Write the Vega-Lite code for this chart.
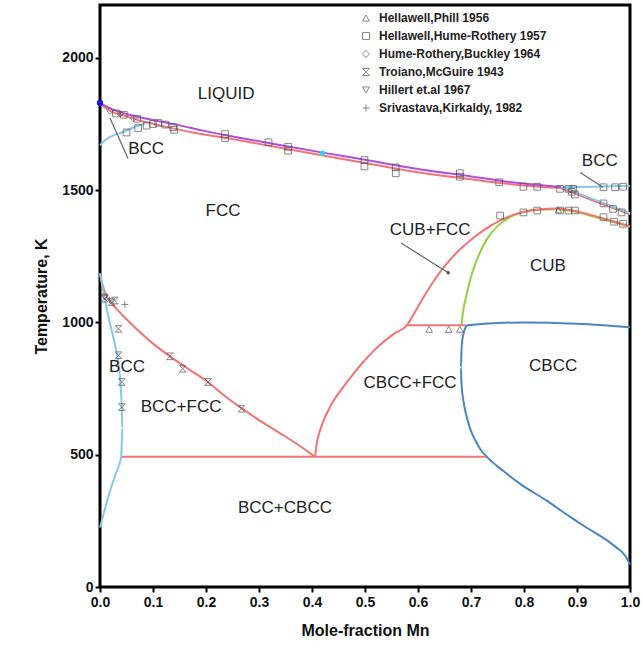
{
  "$schema": "https://vega.github.io/schema/vega-lite/v6.json",
  "autosize": {"type": "none"},
  "padding": {"left": 100, "top": 5, "right": 12, "bottom": 70},
  "width": 530,
  "height": 582,
  "background": "#ffffff",
  "config": {
    "font": "Liberation Sans",
    "view": {"stroke": "#000000", "strokeWidth": 3},
    "axis": {"domain": false, "grid": false, "tickColor": "#000000", "tickWidth": 2, "tickSize": 5, "labelFlush": false,
      "labelFont": "Liberation Sans", "labelFontWeight": "bold", "labelFontSize": 14, "labelColor": "#111111",
      "titleFont": "Liberation Sans", "titleFontWeight": "bold", "titleFontSize": 16, "titleColor": "#111111"}
  },
  "datasets": {
    "lines": [
      {"c": "sol", "k": "red", "i": 0, "x": 0.0, "T": 1826},
      {"c": "sol", "k": "red", "i": 1, "x": 0.02, "T": 1799},
      {"c": "sol", "k": "red", "i": 2, "x": 0.05, "T": 1779},
      {"c": "sol", "k": "red", "i": 3, "x": 0.085, "T": 1758},
      {"c": "sol", "k": "red", "i": 4, "x": 0.1, "T": 1751},
      {"c": "sol", "k": "red", "i": 5, "x": 0.18, "T": 1716},
      {"c": "sol", "k": "red", "i": 6, "x": 0.25, "T": 1693},
      {"c": "sol", "k": "red", "i": 7, "x": 0.3, "T": 1675},
      {"c": "sol", "k": "red", "i": 8, "x": 0.4, "T": 1639},
      {"c": "sol", "k": "red", "i": 9, "x": 0.5, "T": 1603},
      {"c": "sol", "k": "red", "i": 10, "x": 0.6, "T": 1568},
      {"c": "sol", "k": "red", "i": 11, "x": 0.7, "T": 1541},
      {"c": "sol", "k": "red", "i": 12, "x": 0.755, "T": 1527},
      {"c": "sol", "k": "red", "i": 13, "x": 0.8, "T": 1518},
      {"c": "sol", "k": "red", "i": 14, "x": 0.87, "T": 1508},
      {"c": "liq", "k": "liq", "i": 0, "x": 0.0, "T": 1830},
      {"c": "liq", "k": "liq", "i": 1, "x": 0.02, "T": 1808},
      {"c": "liq", "k": "liq", "i": 2, "x": 0.05, "T": 1788},
      {"c": "liq", "k": "liq", "i": 3, "x": 0.1, "T": 1765},
      {"c": "liq", "k": "liq", "i": 4, "x": 0.15, "T": 1745},
      {"c": "liq", "k": "liq", "i": 5, "x": 0.19, "T": 1727},
      {"c": "liq", "k": "liq", "i": 6, "x": 0.25, "T": 1703},
      {"c": "liq", "k": "liq", "i": 7, "x": 0.3, "T": 1685},
      {"c": "liq", "k": "liq", "i": 8, "x": 0.35, "T": 1667},
      {"c": "liq", "k": "liq", "i": 9, "x": 0.42, "T": 1642},
      {"c": "liq", "k": "liq", "i": 10, "x": 0.5, "T": 1615},
      {"c": "liq", "k": "liq", "i": 11, "x": 0.6, "T": 1580},
      {"c": "liq", "k": "liq", "i": 12, "x": 0.7, "T": 1552},
      {"c": "liq", "k": "liq", "i": 13, "x": 0.755, "T": 1536},
      {"c": "liq", "k": "liq", "i": 14, "x": 0.8, "T": 1525},
      {"c": "liq", "k": "liq", "i": 15, "x": 0.87, "T": 1512},
      {"c": "delta", "k": "lblue", "i": 0, "x": 0.0, "T": 1670},
      {"c": "delta", "k": "lblue", "i": 1, "x": 0.01, "T": 1690},
      {"c": "delta", "k": "lblue", "i": 2, "x": 0.025, "T": 1707},
      {"c": "delta", "k": "lblue", "i": 3, "x": 0.044, "T": 1720},
      {"c": "delta", "k": "lblue", "i": 4, "x": 0.063, "T": 1737},
      {"c": "delta", "k": "lblue", "i": 5, "x": 0.085, "T": 1752},
      {"c": "rfcc", "k": "red", "i": 0, "x": 0.87, "T": 1507},
      {"c": "rfcc", "k": "red", "i": 1, "x": 0.9, "T": 1484},
      {"c": "rfcc", "k": "red", "i": 2, "x": 0.95, "T": 1446},
      {"c": "rfcc", "k": "red", "i": 3, "x": 1.0, "T": 1409},
      {"c": "rbtop", "k": "lblue", "i": 0, "x": 0.87, "T": 1511},
      {"c": "rbtop", "k": "lblue", "i": 1, "x": 0.93, "T": 1513},
      {"c": "rbtop", "k": "lblue", "i": 2, "x": 1.0, "T": 1517},
      {"c": "rbdesc", "k": "lblue", "i": 0, "x": 0.875, "T": 1510},
      {"c": "rbdesc", "k": "lblue", "i": 1, "x": 0.9, "T": 1490},
      {"c": "rbdesc", "k": "lblue", "i": 2, "x": 0.95, "T": 1451},
      {"c": "rbdesc", "k": "lblue", "i": 3, "x": 1.0, "T": 1413},
      {"c": "g1", "k": "green", "i": 0, "x": 0.682, "T": 989},
      {"c": "g1", "k": "green", "i": 1, "x": 0.685, "T": 1040},
      {"c": "g1", "k": "green", "i": 2, "x": 0.69, "T": 1090},
      {"c": "g1", "k": "green", "i": 3, "x": 0.697, "T": 1150},
      {"c": "g1", "k": "green", "i": 4, "x": 0.706, "T": 1210},
      {"c": "g1", "k": "green", "i": 5, "x": 0.717, "T": 1265},
      {"c": "g1", "k": "green", "i": 6, "x": 0.73, "T": 1315},
      {"c": "g1", "k": "green", "i": 7, "x": 0.75, "T": 1364},
      {"c": "g1", "k": "green", "i": 8, "x": 0.775, "T": 1400},
      {"c": "g1", "k": "green", "i": 9, "x": 0.8, "T": 1417},
      {"c": "g1", "k": "green", "i": 10, "x": 0.83, "T": 1426},
      {"c": "g1", "k": "green", "i": 11, "x": 0.862, "T": 1428},
      {"c": "g1", "k": "green", "i": 12, "x": 0.892, "T": 1420},
      {"c": "g1", "k": "green", "i": 13, "x": 0.943, "T": 1394},
      {"c": "g1", "k": "green", "i": 14, "x": 1.0, "T": 1362},
      {"c": "f1", "k": "red", "i": 0, "x": 0.406, "T": 492},
      {"c": "f1", "k": "red", "i": 1, "x": 0.408, "T": 530},
      {"c": "f1", "k": "red", "i": 2, "x": 0.412, "T": 570},
      {"c": "f1", "k": "red", "i": 3, "x": 0.42, "T": 620},
      {"c": "f1", "k": "red", "i": 4, "x": 0.434, "T": 681},
      {"c": "f1", "k": "red", "i": 5, "x": 0.455, "T": 745},
      {"c": "f1", "k": "red", "i": 6, "x": 0.478, "T": 806},
      {"c": "f1", "k": "red", "i": 7, "x": 0.5, "T": 858},
      {"c": "f1", "k": "red", "i": 8, "x": 0.528, "T": 915},
      {"c": "f1", "k": "red", "i": 9, "x": 0.555, "T": 958},
      {"c": "f1", "k": "red", "i": 10, "x": 0.579, "T": 989},
      {"c": "f1", "k": "red", "i": 11, "x": 0.59, "T": 1025},
      {"c": "f1", "k": "red", "i": 12, "x": 0.603, "T": 1070},
      {"c": "f1", "k": "red", "i": 13, "x": 0.618, "T": 1120},
      {"c": "f1", "k": "red", "i": 14, "x": 0.635, "T": 1172},
      {"c": "f1", "k": "red", "i": 15, "x": 0.655, "T": 1224},
      {"c": "f1", "k": "red", "i": 16, "x": 0.677, "T": 1272},
      {"c": "f1", "k": "red", "i": 17, "x": 0.7, "T": 1313},
      {"c": "f1", "k": "red", "i": 18, "x": 0.725, "T": 1350},
      {"c": "f1", "k": "red", "i": 19, "x": 0.75, "T": 1380},
      {"c": "f1", "k": "red", "i": 20, "x": 0.775, "T": 1403},
      {"c": "f1", "k": "red", "i": 21, "x": 0.8, "T": 1419},
      {"c": "f1", "k": "red", "i": 22, "x": 0.83, "T": 1428},
      {"c": "f1", "k": "red", "i": 23, "x": 0.862, "T": 1431},
      {"c": "f1", "k": "red", "i": 24, "x": 0.892, "T": 1423},
      {"c": "f1", "k": "red", "i": 25, "x": 0.943, "T": 1397},
      {"c": "f1", "k": "red", "i": 26, "x": 1.0, "T": 1364},
      {"c": "f2", "k": "red", "i": 0, "x": 0.0, "T": 1185},
      {"c": "f2", "k": "red", "i": 1, "x": 0.005, "T": 1140},
      {"c": "f2", "k": "red", "i": 2, "x": 0.012, "T": 1102},
      {"c": "f2", "k": "red", "i": 3, "x": 0.022, "T": 1072},
      {"c": "f2", "k": "red", "i": 4, "x": 0.035, "T": 1043},
      {"c": "f2", "k": "red", "i": 5, "x": 0.05, "T": 1012},
      {"c": "f2", "k": "red", "i": 6, "x": 0.07, "T": 973},
      {"c": "f2", "k": "red", "i": 7, "x": 0.1, "T": 920},
      {"c": "f2", "k": "red", "i": 8, "x": 0.132, "T": 872},
      {"c": "f2", "k": "red", "i": 9, "x": 0.17, "T": 820},
      {"c": "f2", "k": "red", "i": 10, "x": 0.204, "T": 774},
      {"c": "f2", "k": "red", "i": 11, "x": 0.235, "T": 723},
      {"c": "f2", "k": "red", "i": 12, "x": 0.267, "T": 676},
      {"c": "f2", "k": "red", "i": 13, "x": 0.3, "T": 631},
      {"c": "f2", "k": "red", "i": 14, "x": 0.34, "T": 581},
      {"c": "f2", "k": "red", "i": 15, "x": 0.375, "T": 536},
      {"c": "f2", "k": "red", "i": 16, "x": 0.406, "T": 492},
      {"c": "h1", "k": "red", "i": 0, "x": 0.04, "T": 492},
      {"c": "h1", "k": "red", "i": 1, "x": 0.73, "T": 492},
      {"c": "h2", "k": "red", "i": 0, "x": 0.579, "T": 989},
      {"c": "h2", "k": "red", "i": 1, "x": 0.69, "T": 989},
      {"c": "b2", "k": "lblue", "i": 0, "x": 0.0, "T": 1185},
      {"c": "b2", "k": "lblue", "i": 1, "x": 0.008, "T": 1100},
      {"c": "b2", "k": "lblue", "i": 2, "x": 0.015, "T": 1030},
      {"c": "b2", "k": "lblue", "i": 3, "x": 0.022, "T": 970},
      {"c": "b2", "k": "lblue", "i": 4, "x": 0.03, "T": 900},
      {"c": "b2", "k": "lblue", "i": 5, "x": 0.035, "T": 844},
      {"c": "b2", "k": "lblue", "i": 6, "x": 0.039, "T": 760},
      {"c": "b2", "k": "lblue", "i": 7, "x": 0.041, "T": 680},
      {"c": "b2", "k": "lblue", "i": 8, "x": 0.042, "T": 600},
      {"c": "b2", "k": "lblue", "i": 9, "x": 0.041, "T": 540},
      {"c": "b2", "k": "lblue", "i": 10, "x": 0.04, "T": 492},
      {"c": "b2", "k": "lblue", "i": 11, "x": 0.03, "T": 430},
      {"c": "b2", "k": "lblue", "i": 12, "x": 0.02, "T": 370},
      {"c": "b2", "k": "lblue", "i": 13, "x": 0.01, "T": 300},
      {"c": "b2", "k": "lblue", "i": 14, "x": 0.0, "T": 225},
      {"c": "c1", "k": "sblue", "i": 0, "x": 0.692, "T": 989},
      {"c": "c1", "k": "sblue", "i": 1, "x": 0.72, "T": 994},
      {"c": "c1", "k": "sblue", "i": 2, "x": 0.75, "T": 998},
      {"c": "c1", "k": "sblue", "i": 3, "x": 0.8, "T": 1000},
      {"c": "c1", "k": "sblue", "i": 4, "x": 0.85, "T": 999},
      {"c": "c1", "k": "sblue", "i": 5, "x": 0.9, "T": 995},
      {"c": "c1", "k": "sblue", "i": 6, "x": 0.95, "T": 989},
      {"c": "c1", "k": "sblue", "i": 7, "x": 1.0, "T": 982},
      {"c": "c2", "k": "sblue", "i": 0, "x": 0.692, "T": 989},
      {"c": "c2", "k": "sblue", "i": 1, "x": 0.684, "T": 940},
      {"c": "c2", "k": "sblue", "i": 2, "x": 0.682, "T": 895},
      {"c": "c2", "k": "sblue", "i": 3, "x": 0.681, "T": 830},
      {"c": "c2", "k": "sblue", "i": 4, "x": 0.682, "T": 769},
      {"c": "c2", "k": "sblue", "i": 5, "x": 0.686, "T": 700},
      {"c": "c2", "k": "sblue", "i": 6, "x": 0.692, "T": 643},
      {"c": "c2", "k": "sblue", "i": 7, "x": 0.699, "T": 595},
      {"c": "c2", "k": "sblue", "i": 8, "x": 0.708, "T": 555},
      {"c": "c2", "k": "sblue", "i": 9, "x": 0.718, "T": 520},
      {"c": "c2", "k": "sblue", "i": 10, "x": 0.73, "T": 492},
      {"c": "c2", "k": "sblue", "i": 11, "x": 0.76, "T": 440},
      {"c": "c2", "k": "sblue", "i": 12, "x": 0.792, "T": 391},
      {"c": "c2", "k": "sblue", "i": 13, "x": 0.84, "T": 330},
      {"c": "c2", "k": "sblue", "i": 14, "x": 0.887, "T": 265},
      {"c": "c2", "k": "sblue", "i": 15, "x": 0.92, "T": 222},
      {"c": "c2", "k": "sblue", "i": 16, "x": 0.956, "T": 177},
      {"c": "c2", "k": "sblue", "i": 17, "x": 0.975, "T": 148},
      {"c": "c2", "k": "sblue", "i": 18, "x": 0.987, "T": 128},
      {"c": "c2", "k": "sblue", "i": 19, "x": 0.995, "T": 105},
      {"c": "c2", "k": "sblue", "i": 20, "x": 1.0, "T": 85}
    ],
    "pts": [
      {"s": "Hellawell,Phill 1956", "x": 0.621, "T": 974},
      {"s": "Hellawell,Phill 1956", "x": 0.658, "T": 974},
      {"s": "Hellawell,Phill 1956", "x": 0.679, "T": 974},
      {"s": "Hellawell,Phill 1956", "x": 0.865, "T": 1425},
      {"s": "Hellawell,Hume-Rothery 1957", "x": 0.05, "T": 1718},
      {"s": "Hellawell,Hume-Rothery 1957", "x": 0.072, "T": 1735},
      {"s": "Hellawell,Hume-Rothery 1957", "x": 0.088, "T": 1744},
      {"s": "Hellawell,Hume-Rothery 1957", "x": 0.1, "T": 1750},
      {"s": "Hellawell,Hume-Rothery 1957", "x": 0.11, "T": 1755},
      {"s": "Hellawell,Hume-Rothery 1957", "x": 0.123, "T": 1748},
      {"s": "Hellawell,Hume-Rothery 1957", "x": 0.138, "T": 1738},
      {"s": "Hellawell,Hume-Rothery 1957", "x": 0.14, "T": 1728},
      {"s": "Hellawell,Hume-Rothery 1957", "x": 0.03, "T": 1790},
      {"s": "Hellawell,Hume-Rothery 1957", "x": 0.045, "T": 1785},
      {"s": "Hellawell,Hume-Rothery 1957", "x": 0.07, "T": 1770},
      {"s": "Hellawell,Hume-Rothery 1957", "x": 0.236, "T": 1712},
      {"s": "Hellawell,Hume-Rothery 1957", "x": 0.236, "T": 1697},
      {"s": "Hellawell,Hume-Rothery 1957", "x": 0.318, "T": 1681},
      {"s": "Hellawell,Hume-Rothery 1957", "x": 0.355, "T": 1664},
      {"s": "Hellawell,Hume-Rothery 1957", "x": 0.355, "T": 1649},
      {"s": "Hellawell,Hume-Rothery 1957", "x": 0.499, "T": 1614},
      {"s": "Hellawell,Hume-Rothery 1957", "x": 0.499, "T": 1590},
      {"s": "Hellawell,Hume-Rothery 1957", "x": 0.558, "T": 1586},
      {"s": "Hellawell,Hume-Rothery 1957", "x": 0.558, "T": 1564},
      {"s": "Hellawell,Hume-Rothery 1957", "x": 0.679, "T": 1564},
      {"s": "Hellawell,Hume-Rothery 1957", "x": 0.679, "T": 1551},
      {"s": "Hellawell,Hume-Rothery 1957", "x": 0.753, "T": 1530},
      {"s": "Hellawell,Hume-Rothery 1957", "x": 0.799, "T": 1513},
      {"s": "Hellawell,Hume-Rothery 1957", "x": 0.825, "T": 1513},
      {"s": "Hellawell,Hume-Rothery 1957", "x": 0.868, "T": 1505},
      {"s": "Hellawell,Hume-Rothery 1957", "x": 0.884, "T": 1505},
      {"s": "Hellawell,Hume-Rothery 1957", "x": 0.893, "T": 1505},
      {"s": "Hellawell,Hume-Rothery 1957", "x": 0.89, "T": 1494},
      {"s": "Hellawell,Hume-Rothery 1957", "x": 0.896, "T": 1484},
      {"s": "Hellawell,Hume-Rothery 1957", "x": 0.95, "T": 1511},
      {"s": "Hellawell,Hume-Rothery 1957", "x": 0.972, "T": 1511},
      {"s": "Hellawell,Hume-Rothery 1957", "x": 0.987, "T": 1513},
      {"s": "Hellawell,Hume-Rothery 1957", "x": 0.95, "T": 1450},
      {"s": "Hellawell,Hume-Rothery 1957", "x": 0.968, "T": 1429},
      {"s": "Hellawell,Hume-Rothery 1957", "x": 0.984, "T": 1416},
      {"s": "Hellawell,Hume-Rothery 1957", "x": 0.95, "T": 1398},
      {"s": "Hellawell,Hume-Rothery 1957", "x": 0.97, "T": 1381},
      {"s": "Hellawell,Hume-Rothery 1957", "x": 0.987, "T": 1373},
      {"s": "Hellawell,Hume-Rothery 1957", "x": 0.755, "T": 1404},
      {"s": "Hellawell,Hume-Rothery 1957", "x": 0.799, "T": 1416},
      {"s": "Hellawell,Hume-Rothery 1957", "x": 0.825, "T": 1423},
      {"s": "Hellawell,Hume-Rothery 1957", "x": 0.868, "T": 1423},
      {"s": "Hellawell,Hume-Rothery 1957", "x": 0.884, "T": 1423},
      {"s": "Hellawell,Hume-Rothery 1957", "x": 0.896, "T": 1423},
      {"s": " Hume-Rothery,Buckley 1964", "x": 0.019, "T": 1800},
      {"s": " Hume-Rothery,Buckley 1964", "x": 0.038, "T": 1789},
      {"s": " Hume-Rothery,Buckley 1964", "x": 0.063, "T": 1772},
      {"s": "Troiano,McGuire 1943", "x": 0.009, "T": 1090},
      {"s": "Troiano,McGuire 1943", "x": 0.022, "T": 1077},
      {"s": "Troiano,McGuire 1943", "x": 0.028, "T": 1083},
      {"s": "Troiano,McGuire 1943", "x": 0.035, "T": 976},
      {"s": "Troiano,McGuire 1943", "x": 0.035, "T": 876},
      {"s": "Troiano,McGuire 1943", "x": 0.041, "T": 775},
      {"s": "Troiano,McGuire 1943", "x": 0.041, "T": 680},
      {"s": "Troiano,McGuire 1943", "x": 0.132, "T": 872},
      {"s": "Troiano,McGuire 1943", "x": 0.156, "T": 825},
      {"s": "Troiano,McGuire 1943", "x": 0.204, "T": 775},
      {"s": "Troiano,McGuire 1943", "x": 0.267, "T": 674},
      {"s": "Hillert et.al 1967", "x": 0.009, "T": 1096},
      {"s": "Srivastava,Kirkaldy, 1982", "x": 0.047, "T": 1068},
      {"s": "Srivastava,Kirkaldy, 1982", "x": 0.018, "T": 1085}
    ],
    "labels": [
      {"t": "LIQUID", "x": 0.238, "T": 1864},
      {"t": "BCC", "x": 0.087, "T": 1657},
      {"t": "FCC", "x": 0.232, "T": 1420},
      {"t": "CUB+FCC", "x": 0.623, "T": 1349},
      {"t": "CUB", "x": 0.845, "T": 1215},
      {"t": "CBCC", "x": 0.855, "T": 834},
      {"t": "CBCC+FCC", "x": 0.585, "T": 770},
      {"t": "BCC", "x": 0.051, "T": 830},
      {"t": "BCC+FCC", "x": 0.153, "T": 679},
      {"t": "BCC+CBCC", "x": 0.349, "T": 298},
      {"t": "BCC", "x": 0.943, "T": 1611}
    ],
    "arrows": [
      {"x": 0.053, "T": 1619, "x2": 0.019, "T2": 1772},
      {"x": 0.568, "T": 1300, "x2": 0.657, "T2": 1188},
      {"x": 0.906, "T": 1567, "x2": 0.949, "T2": 1511}
    ],
    "dots": [
      {"x": 0.0, "T": 1830, "col": "blue"},
      {"x": 0.42, "T": 1640, "col": "cyan"},
      {"x": 0.657, "T": 1188, "col": "grey"}
    ]
  },
  "layer": [
    {
      "data": {"name": "lines"},
      "mark": {"type": "line", "strokeWidth": 2, "interpolate": "monotone"},
      "encoding": {
        "x": {"field": "x", "type": "quantitative", "scale": {"domain": [0, 1], "nice": false},
          "axis": {"values": [0, 0.1, 0.2, 0.3, 0.4, 0.5, 0.6, 0.7, 0.8, 0.9, 1.0], "format": ".1f", "title": "Mole-fraction Mn", "labelPadding": 3, "titlePadding": 13}},
        "y": {"field": "T", "type": "quantitative", "scale": {"domain": [0, 2200], "nice": false},
          "axis": {"values": [0, 500, 1000, 1500, 2000], "format": "d", "title": "Temperature, K", "labelPadding": 2, "titlePadding": 12}},
        "detail": {"field": "c"},
        "order": {"field": "i", "type": "quantitative"},
        "color": {"field": "k", "type": "nominal", "legend": null,
          "scale": {"domain": ["red", "liq", "lblue", "sblue", "green"], "range": ["#f27474", "#b04fdc", "#86c8ea", "#4a86c0", "#92d040"]}}
      }
    },
    {
      "data": {"name": "arrows"},
      "mark": {"type": "rule", "color": "#666666", "strokeWidth": 1.2},
      "encoding": {
        "x": {"field": "x", "type": "quantitative"},
        "y": {"field": "T", "type": "quantitative"},
        "x2": {"field": "x2"},
        "y2": {"field": "T2"}
      }
    },
    {
      "data": {"name": "pts"},
      "mark": {"type": "point", "filled": false, "stroke": "#555555", "strokeWidth": 1, "size": 45},
      "encoding": {
        "x": {"field": "x", "type": "quantitative"},
        "y": {"field": "T", "type": "quantitative"},
        "shape": {"field": "s", "type": "nominal",
          "scale": {"domain": ["Hellawell,Phill 1956", "Hellawell,Hume-Rothery 1957", " Hume-Rothery,Buckley 1964", "Troiano,McGuire 1943", "Hillert et.al 1967", "Srivastava,Kirkaldy, 1982"],
            "range": ["triangle-up", "square", "diamond", "M-1,-1L1,-1L-1,1L1,1Z", "triangle-down", "M-1,0L1,0M0,-1L0,1"]},
          "legend": {"title": null, "orient": "none", "legendX": 260, "legendY": 7, "symbolSize": 50, "symbolStrokeColor": "#555555", "symbolFillColor": "transparent", "symbolStrokeWidth": 1,
            "labelFont": "Liberation Sans", "labelFontWeight": "bold", "labelFontSize": 12, "labelColor": "#222222", "labelOffset": 7, "rowPadding": 6, "labelLimit": 300}}
      }
    },
    {
      "data": {"name": "dots"},
      "mark": {"type": "point", "filled": true, "opacity": 1},
      "encoding": {
        "x": {"field": "x", "type": "quantitative"},
        "y": {"field": "T", "type": "quantitative"},
        "color": {"field": "col", "type": "nominal", "legend": null, "scale": {"domain": ["blue", "cyan", "grey"], "range": ["#1a1ad8", "#2ad4e8", "#555555"]}},
        "size": {"field": "col", "type": "nominal", "legend": null, "scale": {"domain": ["blue", "cyan", "grey"], "range": [40, 12, 8]}}
      }
    },
    {
      "data": {"name": "labels"},
      "mark": {"type": "text", "font": "Liberation Sans", "fontSize": 17, "color": "#222222", "align": "center", "baseline": "middle"},
      "encoding": {
        "x": {"field": "x", "type": "quantitative"},
        "y": {"field": "T", "type": "quantitative"},
        "text": {"field": "t"}
      }
    }
  ],
  "resolve": {"scale": {"color": "independent", "size": "independent"}}
}
